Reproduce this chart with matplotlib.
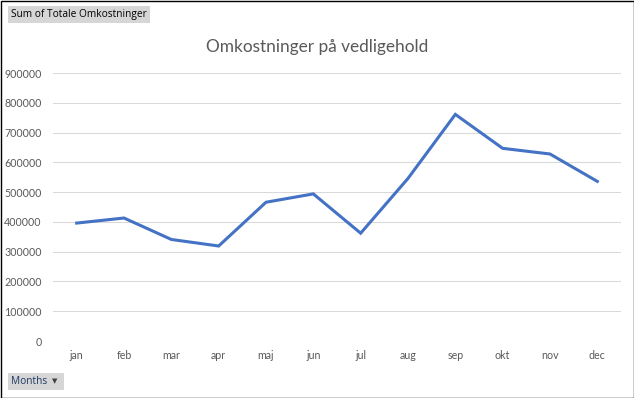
import matplotlib.pyplot as plt
from matplotlib.patches import Rectangle

# monthly maintenance costs
months = ['jan', 'feb', 'mar', 'apr', 'maj', 'jun', 'jul', 'aug', 'sep', 'okt', 'nov', 'dec']
costs = [396000, 413000, 341000, 319000, 466000, 494000, 362000, 546000, 761000, 647000, 628000, 536000]
y_ticks = [0, 100000, 200000, 300000, 400000, 500000, 600000, 700000, 800000, 900000]

grey = '#595959'
plt.rcParams['font.family'] = ['Lato', 'DejaVu Sans']

fig = plt.figure(figsize=(6.34, 3.98), dpi=100)
ax = fig.add_axes([53 / 634, 1 - 341 / 398, 568 / 634, 268 / 398])

x = list(range(len(months)))
ax.plot(x, costs, color='#4472C4', linewidth=2.2, solid_joinstyle='miter')

ax.set_xlim(-0.5, len(months) - 0.5)
ax.set_ylim(0, 900000)
ax.set_xticks(x)
ax.set_xticklabels(months)
ax.set_yticks(y_ticks)
ax.set_yticklabels([str(v) for v in y_ticks])
ax.tick_params(length=0, colors=grey, labelsize=7.7)
ax.tick_params(axis='y', pad=8)
ax.tick_params(axis='x', pad=6.5)
ax.grid(axis='y', color='#D9D9D9', linewidth=0.75)
ax.set_axisbelow(True)
for s in ax.spines.values():
    s.set_visible(False)

fig.text(0.5, 1 - 47 / 398, 'Omkostninger på vedligehold', ha='center', va='center',
         fontsize=12.4, color=grey)

# pivot chart field buttons
btn = ['Open Sans', 'DejaVu Sans']
fig.patches.append(Rectangle((8 / 634, 1 - 23 / 398), 142 / 634, 17 / 398,
                             transform=fig.transFigure, facecolor='#D6D6D6', edgecolor='none'))
fig.text(11 / 634, 1 - 14.5 / 398, 'Sum of Totale Omkostninger', ha='left', va='center',
         fontsize=7.3, color='black', family=btn)
fig.patches.append(Rectangle((8 / 634, 1 - 390 / 398), 56 / 634, 17 / 398,
                             transform=fig.transFigure, facecolor='#D6D6D6', edgecolor='none'))
fig.text(11 / 634, 1 - 381.5 / 398, 'Months', ha='left', va='center', fontsize=7.3,
         color='#1F3864', family=btn)
fig.text(52 / 634, 1 - 381.5 / 398, '▼', ha='left', va='center', fontsize=5,
         color='#404040', family=['DejaVu Sans'])

# outer frame
fig.patches.append(Rectangle((0.5 / 634, 0.5 / 398), 633 / 634, 397 / 398,
                             transform=fig.transFigure, facecolor='none', edgecolor='black', linewidth=1))

fig.savefig('out.png', dpi=100)
